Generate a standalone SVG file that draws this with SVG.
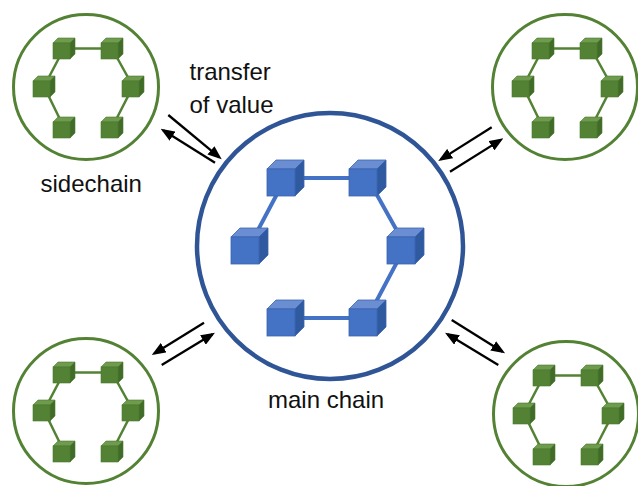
<svg xmlns="http://www.w3.org/2000/svg" xmlns:xlink="http://www.w3.org/1999/xlink" width="638" height="486" viewBox="0 0 638 486">
<style>
.lbl{font-family:"Liberation Sans",Arial,sans-serif;font-size:24px;fill:#111}
.arr{stroke:#000;stroke-width:2.3;fill:none;marker-end:url(#ah)}
.gl{stroke:#548235;stroke-width:2.5;fill:none}
.bl{stroke:#4472C4;stroke-width:4;fill:none}
.gf{fill:#548235}.gt{fill:#6E9B4E}.gs{fill:#416B29}
.bf{fill:#4472C4}.bt{fill:#6B8ED3}.bs{fill:#2F5A9F}
.gc polygon,.gc rect{stroke:#4A7A2E;stroke-width:0.6}
.bc polygon,.bc rect{stroke:#3A64B0;stroke-width:0.8}
</style>
<defs>
<marker id="ah" viewBox="0 0 14 11" refX="11" refY="5.5" markerWidth="14" markerHeight="11" markerUnits="userSpaceOnUse" orient="auto">
<path d="M0,0 L14,5.5 L0,11 z" fill="#000"/>
</marker>
<g id="gcube" class="gc">
<polygon class="gt" points="0,0 5,-5 22,-5 17,0"/>
<polygon class="gs" points="17,0 22,-5 22,11 17,16"/>
<rect class="gf" x="0" y="0" width="17" height="16"/>
</g>
<g id="bcube" class="bc">
<polygon class="bt" points="0,0 9,-9 37,-9 28,0"/>
<polygon class="bs" points="28,0 37,-9 37,18 28,27"/>
<rect class="bf" x="0" y="0" width="28" height="27"/>
</g>
<g id="gcluster">
<circle cx="0" cy="0" r="72.5" fill="#fff" stroke="#548235" stroke-width="3"/>
<path class="gl" d="M-22,-38.5 L26,-38.5 M-22,-38.5 L-42,-0.5 L-22,40.5 M26,-38.5 L47,-0.5 L26,40.5"/>
<use xlink:href="#gcube" x="-33" y="-44"/>
<use xlink:href="#gcube" x="15" y="-44"/>
<use xlink:href="#gcube" x="-53" y="-6"/>
<use xlink:href="#gcube" x="36" y="-6"/>
<use xlink:href="#gcube" x="-33" y="35"/>
<use xlink:href="#gcube" x="15" y="35"/>
</g>
</defs>
<rect width="638" height="486" fill="#fff"/>

<g id="sidechain-tl" transform="translate(86,87)"><use xlink:href="#gcluster"/></g>
<g id="sidechain-tr" transform="translate(565,87)"><use xlink:href="#gcluster"/></g>
<g id="sidechain-bl" transform="translate(86,411)"><use xlink:href="#gcluster"/></g>
<g id="sidechain-br" transform="translate(566,414)"><use xlink:href="#gcluster"/></g>

<g id="mainchain">
<circle cx="330" cy="246" r="133" fill="#fff" stroke="#2F5597" stroke-width="4.5"/>
<path class="bl" d="M285.5,178 L367.5,178 M285.5,178 L249.5,246 M367.5,178 L405.5,246 L367.5,318 L285.5,318"/>
<use xlink:href="#bcube" x="267" y="169"/>
<use xlink:href="#bcube" x="349" y="169"/>
<use xlink:href="#bcube" x="231" y="237"/>
<use xlink:href="#bcube" x="387" y="237"/>
<use xlink:href="#bcube" x="267" y="309"/>
<use xlink:href="#bcube" x="349" y="309"/>
</g>

<g id="connectors">
<line class="arr" x1="168.3" y1="115" x2="219.4" y2="157.4"/>
<line class="arr" x1="215" y1="162.7" x2="163.2" y2="130.3"/>
<line class="arr" x1="491.7" y1="127.3" x2="440.8" y2="159.4"/>
<line class="arr" x1="450" y1="171.7" x2="500.8" y2="139.9"/>
<line class="arr" x1="204" y1="322.7" x2="154.3" y2="353.4"/>
<line class="arr" x1="161.7" y1="365" x2="212.4" y2="334.3"/>
<line class="arr" x1="451.7" y1="320" x2="502.5" y2="351.7"/>
<line class="arr" x1="498.3" y1="365" x2="447.6" y2="334.3"/>
</g>

<g id="labels">
<text class="lbl" x="189.5" y="80">transfer</text>
<text class="lbl" x="189.5" y="113">of value</text>
<text class="lbl" x="40.5" y="192">sidechain</text>
<text class="lbl" x="268" y="408">main chain</text>
</g>
</svg>
